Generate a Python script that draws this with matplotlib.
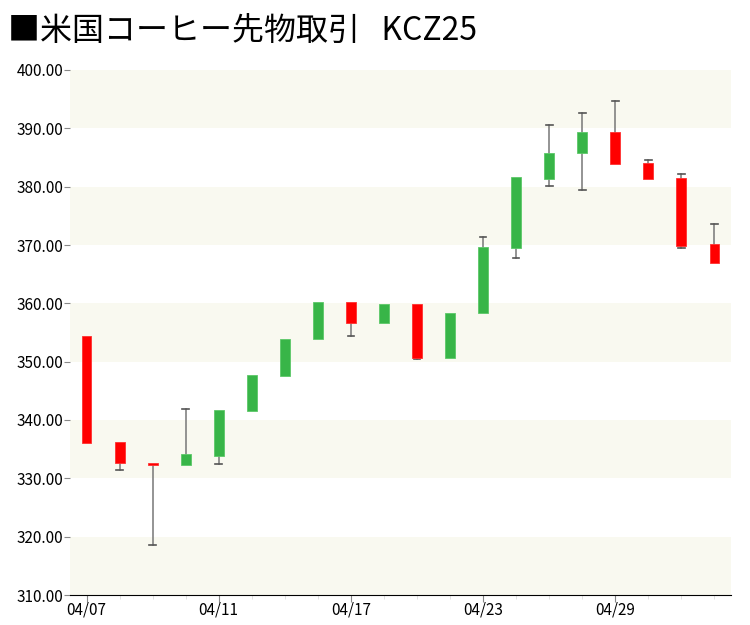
import matplotlib
matplotlib.use("Agg")
import matplotlib.pyplot as plt
from matplotlib.ticker import MultipleLocator, FixedLocator

plt.rcParams['font.family'] = ['Noto Sans CJK JP', 'DejaVu Sans']

dates = ['04/07', '04/08', '04/09', '04/10', '04/11', '04/14', '04/15', '04/16', '04/17', '04/18',
         '04/21', '04/22', '04/23', '04/24', '04/25', '04/28', '04/29', '04/30', '05/01', '05/02']
opens = [354.4, 336.2, 332.6, 332.3, 333.9, 341.5, 347.5, 353.9, 360.3, 356.6,
         359.9, 350.6, 358.3, 369.5, 381.4, 385.7, 389.3, 384.1, 381.5, 370.1]
closes = [336.1, 332.6, 332.3, 334.1, 341.7, 347.7, 353.9, 360.3, 356.6, 359.9,
          350.6, 358.4, 369.6, 381.6, 385.7, 389.3, 383.9, 381.4, 369.9, 367.0]
highs = [354.4, 336.2, 332.6, 341.8, 341.7, 347.7, 353.9, 360.3, 360.3, 359.9,
         359.9, 358.4, 371.3, 381.6, 390.6, 392.7, 394.7, 384.6, 382.2, 373.6]
lows = [336.1, 331.4, 318.6, 332.3, 332.5, 341.5, 347.5, 353.9, 354.4, 356.6,
        350.4, 350.6, 358.3, 367.8, 380.2, 379.4, 383.9, 381.4, 369.5, 367.0]
tick_idx = [0, 4, 8, 12, 16]

up_color = '#38b548'
down_color = '#ff0000'
wick_color = '#777777'

fig = plt.figure(figsize=(7.5, 6.25), dpi=100)
ax = fig.add_axes([0.0933, 0.048, 0.8814, 0.84])

# alternating background bands
for lo in range(310, 400, 20):
    ax.axhspan(lo, lo + 10, color='#f9f9f0', zorder=0, lw=0)

for i in range(len(dates)):
    o, c, h, l = opens[i], closes[i], highs[i], lows[i]
    top = max(o, c)
    bot = min(o, c)
    if h > top + 0.05:
        ax.plot([i, i], [top, h], color=wick_color, lw=1.1, zorder=2)
        ax.plot([i - 0.1, i + 0.1], [h, h], color='#555555', lw=1.2, zorder=2)
    if l < bot - 0.05:
        ax.plot([i, i], [l, bot], color=wick_color, lw=1.1, zorder=2)
        ax.plot([i - 0.1, i + 0.1], [l, l], color='#555555', lw=1.2, zorder=2)
    col = up_color if c >= o else down_color
    edge = '#5cc868' if c >= o else '#ff3030'
    ax.bar(i, max(top - bot, 0.4), bottom=bot, width=0.3, color=col,
           edgecolor=edge, lw=0.6, zorder=3)

ax.set_xlim(-0.5, 19.5)
ax.set_ylim(310, 400)
ax.yaxis.set_major_locator(MultipleLocator(10))
ax.yaxis.set_major_formatter(lambda v, p: f'{v:.2f}')
ax.set_xticks(tick_idx)
ax.set_xticklabels([dates[i] for i in tick_idx])
ax.xaxis.set_minor_locator(FixedLocator(range(len(dates))))

for s in ['top', 'right', 'left']:
    ax.spines[s].set_visible(False)
ax.spines['bottom'].set_color('black')
ax.tick_params(axis='y', length=4, color='#888888', labelsize=11, pad=1)
ax.tick_params(axis='x', which='major', length=5, color='#888888', labelsize=11, pad=0)
ax.tick_params(axis='x', which='minor', length=3, color='#dddddd')

fig.text(0.01, 0.975, '■米国コーヒー先物取引   KCZ25', fontsize=23, va='top', ha='left')

fig.savefig('out.png', dpi=100)
